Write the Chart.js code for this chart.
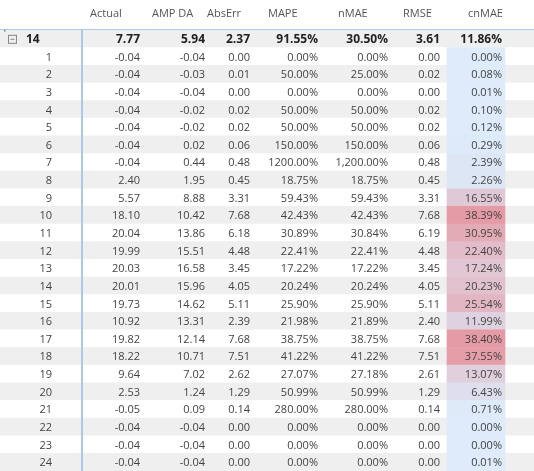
<!DOCTYPE html>
<html>
<head>
<meta charset="utf-8">
<script src="https://cdn.jsdelivr.net/npm/chart.js@4"></script>
<style>
  html, body { margin: 0; padding: 0; background: #fff; }
  #wrap { width: 534px; height: 471px; }
</style>
</head>
<body>
<div id="wrap"><canvas id="tableChart"></canvas></div>
<script>
const columns = ['Actual', 'AMP DA', 'AbsErr', 'MAPE', 'nMAE', 'RMSE', 'cnMAE'];
const hours = ['1','2','3','4','5','6','7','8','9','10','11','12','13','14','15','16','17','18','19','20','21','22','23','24'];
const actual = [7.77, -0.04, -0.04, -0.04, -0.04, -0.04, -0.04, -0.04, 2.40, 5.57, 18.10, 20.04, 19.99, 20.03, 20.01, 19.73, 10.92, 19.82, 18.22, 9.64, 2.53, -0.05, -0.04, -0.04, -0.04];
const ampDa = [5.94, -0.04, -0.03, -0.04, -0.02, -0.02, 0.02, 0.44, 1.95, 8.88, 10.42, 13.86, 15.51, 16.58, 15.96, 14.62, 13.31, 12.14, 10.71, 7.02, 1.24, 0.09, -0.04, -0.04, -0.04];
const absErr = [2.37, 0.00, 0.01, 0.00, 0.02, 0.02, 0.06, 0.48, 0.45, 3.31, 7.68, 6.18, 4.48, 3.45, 4.05, 5.11, 2.39, 7.68, 7.51, 2.62, 1.29, 0.14, 0.00, 0.00, 0.00];
const mape = [91.55, 0.00, 50.00, 0.00, 50.00, 50.00, 150.00, 1200.00, 18.75, 59.43, 42.43, 30.89, 22.41, 17.22, 20.24, 25.90, 21.98, 38.75, 41.22, 27.07, 50.99, 280.00, 0.00, 0.00, 0.00];
const nmae = [30.50, 0.00, 25.00, 0.00, 50.00, 50.00, 150.00, 1200.00, 18.75, 59.43, 42.43, 30.84, 22.41, 17.22, 20.24, 25.90, 21.89, 38.75, 41.22, 27.18, 50.99, 280.00, 0.00, 0.00, 0.00];
const rmse = [3.61, 0.00, 0.02, 0.00, 0.02, 0.02, 0.06, 0.48, 0.45, 3.31, 7.68, 6.19, 4.48, 3.45, 4.05, 5.11, 2.40, 7.68, 7.51, 2.61, 1.29, 0.14, 0.00, 0.00, 0.00];
const cnmae = [11.86, 0.00, 0.08, 0.01, 0.10, 0.12, 0.29, 2.39, 2.26, 16.55, 38.39, 30.95, 22.40, 17.24, 20.23, 25.54, 11.99, 38.40, 37.55, 13.07, 6.43, 0.71, 0.00, 0.00, 0.01];

// first row is the group total for 14, the rest are hours
const labels = ['14'].concat(hours);

// layout (pixels): right edge of each value column, header text start, cnMAE cell band
const colRight = [140, 205, 250, 318, 388, 440, 502];
const headerLeft = [90, 152, 207, 268, 338, 403, 468];
const cnBand = [447, 505];

function fmtNum(v) { return v.toFixed(2); }
function fmtPct(v, comma) {
    return (comma ? v.toLocaleString('en-US', { minimumFractionDigits: 2, maximumFractionDigits: 2 }) : v.toFixed(2)) + '%';
}
function cellText(col, i) {
    switch (col) {
        case 0: return fmtNum(actual[i]);
        case 1: return fmtNum(ampDa[i]);
        case 2: return fmtNum(absErr[i]);
        case 3: return fmtPct(mape[i], false);
        case 4: return fmtPct(nmae[i], true);
        case 5: return fmtNum(rmse[i]);
        case 6: return fmtPct(cnmae[i], false);
    }
}
function heat(v) {
    const t = Math.min(v / 38.4, 1);
    const a = [221, 235, 250], b = [229, 155, 166];
    const c = a.map((x, k) => Math.round(x + (b[k] - x) * t));
    return `rgb(${c[0]},${c[1]},${c[2]})`;
}

const tablePlugin = {
    id: 'tableText',
    afterDatasetsDraw(chart) {
        const ctx = chart.ctx;
        const y = chart.scales.y;
        const x = chart.scales.x;
        ctx.save();
        ctx.textBaseline = 'middle';
        // header
        ctx.font = '11px "Open Sans", "Noto Sans", sans-serif';
        ctx.fillStyle = '#555';
        ctx.textAlign = 'left';
        columns.forEach((c, k) => ctx.fillText(c, headerLeft[k], 14));
        ctx.fillStyle = '#777';
        ctx.fillRect(4, 30, 1.5, 1.5);
        // header underline and vertical separator
        ctx.strokeStyle = '#a9c8ea';
        ctx.lineWidth = 1;
        ctx.beginPath();
        ctx.moveTo(x.getPixelForValue(0), chart.chartArea.top - 0.5);
        ctx.lineTo(x.getPixelForValue(534), chart.chartArea.top - 0.5);
        ctx.stroke();
        ctx.lineWidth = 2;
        ctx.beginPath();
        ctx.moveTo(82, chart.chartArea.top);
        ctx.lineTo(82, chart.chartArea.bottom);
        ctx.stroke();

        labels.forEach((lab, i) => {
            const py = y.getPixelForValue(i) + 1;
            const bold = i === 0;
            ctx.font = (bold ? 'bold 12px' : '11px') + ' "Open Sans", "Noto Sans", sans-serif';
            ctx.fillStyle = bold ? '#222' : '#444';
            if (bold) {
                ctx.strokeStyle = '#888';
                ctx.lineWidth = 1;
                ctx.strokeRect(8.5, py - 4.5, 8, 8);
                ctx.beginPath();
                ctx.moveTo(10.5, py - 0.5);
                ctx.lineTo(14.5, py - 0.5);
                ctx.stroke();
                ctx.textAlign = 'left';
                ctx.fillText(lab, 26, py);
            } else {
                ctx.textAlign = 'right';
                ctx.fillText(lab, 52, py);
            }
            ctx.textAlign = 'right';
            for (let c = 0; c < 7; c++) {
                ctx.fillText(cellText(c, i), colRight[c], py);
            }
        });
        ctx.restore();
    }
};

const ctx = document.getElementById('tableChart').getContext('2d');
new Chart(ctx, {
    type: 'bar',
    data: {
        labels: labels,
        datasets: [{
            data: labels.map(() => [0, 534]),
            backgroundColor: labels.map((_, i) => i % 2 === 0 ? '#efefef' : '#ffffff'),
            grouped: false,
            barPercentage: 1,
            categoryPercentage: 1,
            order: 2
        }, {
            data: labels.map((_, i) => i === 0 ? null : cnBand),
            backgroundColor: cnmae.map(v => heat(v)),
            grouped: false,
            barPercentage: 1,
            categoryPercentage: 1,
            order: 1
        }]
    },
    options: {
        indexAxis: 'y',
        responsive: true,
        maintainAspectRatio: false,
        animation: false,
        layout: { padding: { top: 30, bottom: 0, left: 0, right: 0 } },
        plugins: { legend: { display: false }, tooltip: { enabled: false } },
        scales: {
            x: { type: 'linear', min: 0, max: 534, display: false },
            y: { display: false }
        }
    },
    plugins: [tablePlugin]
});
</script>
</body>
</html>
